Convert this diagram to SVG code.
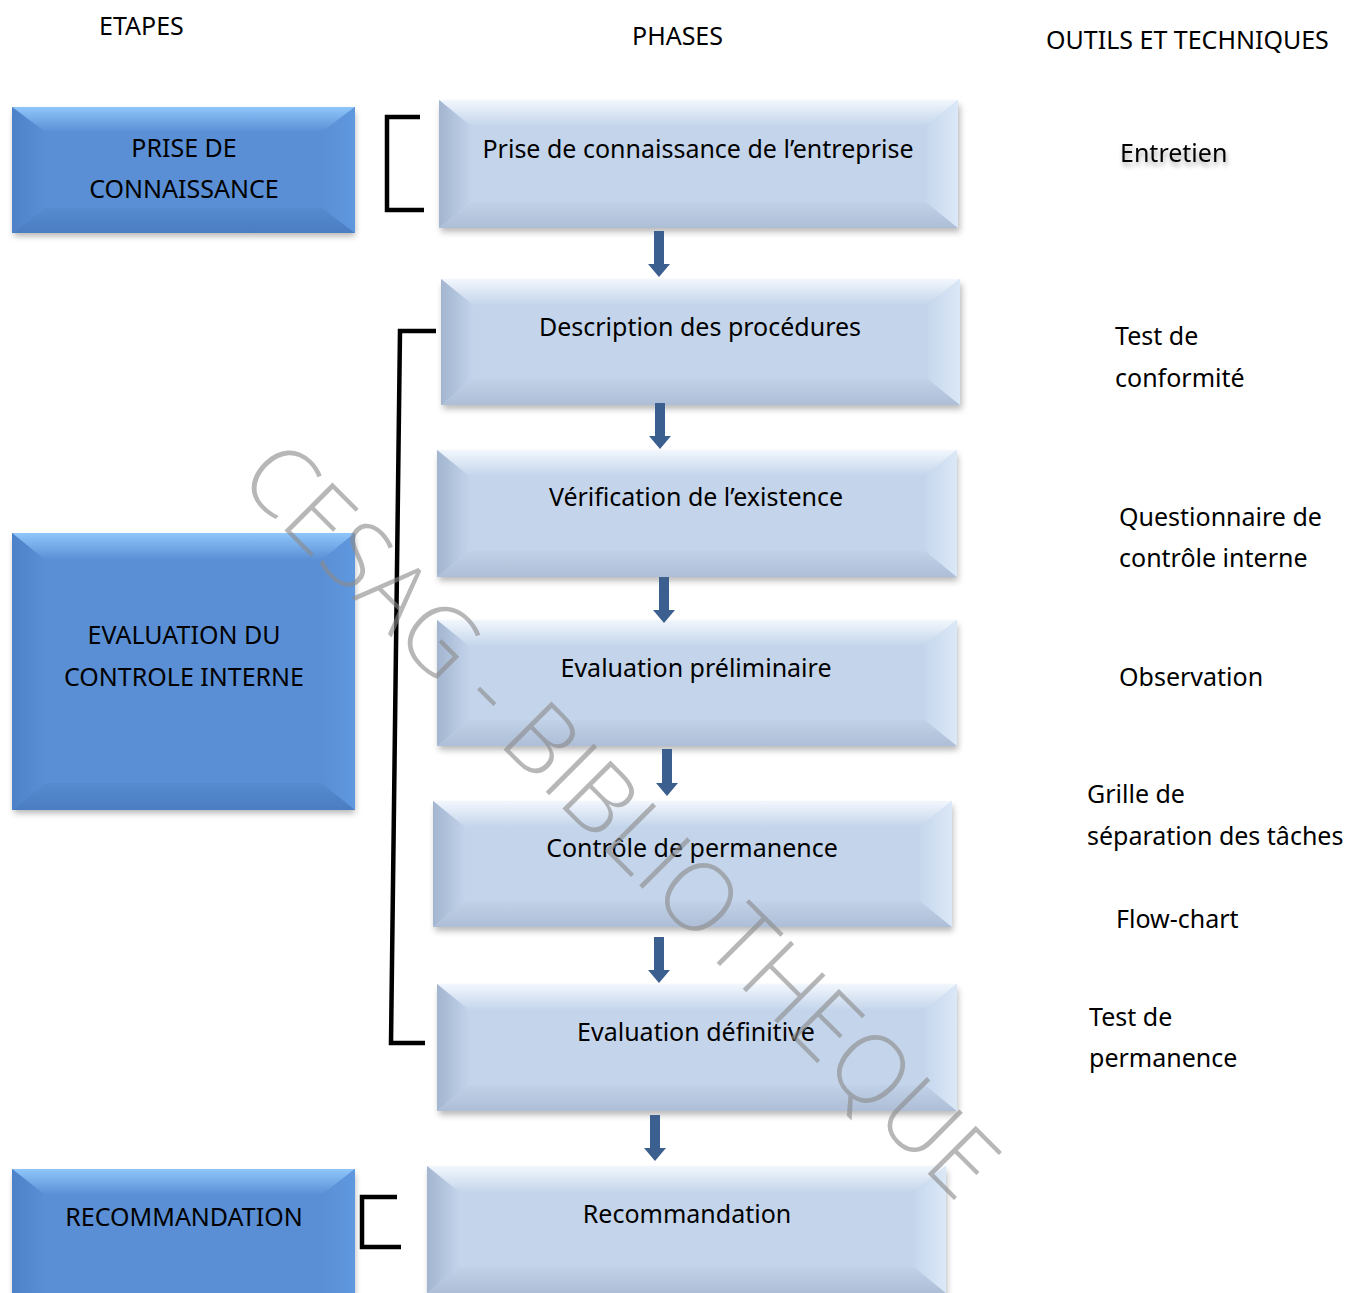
<svg xmlns="http://www.w3.org/2000/svg" width="1353" height="1293" viewBox="0 0 1353 1293">
  <defs>
    <style>
      text { font-family: "Noto Sans", "Open Sans", sans-serif; fill: #000; }
      .hdr { font-size: 25px; }
      .lbl { font-size: 25px; text-anchor: middle; }
      .tool { font-size: 25px; }
      .bracket { fill: none; stroke: #000; stroke-width: 4.5; stroke-linejoin: miter; }
      .conn { stroke: #3b5f8e; stroke-width: 10; fill: none; marker-end: url(#head); }
      .wm { font-family: "Open Sans", "Noto Sans", sans-serif; font-weight: 300; font-size: 95px; fill: #8a8a8a; fill-opacity: 0.62; text-anchor: middle; }
      .lt-face { fill: #c4d5eb; }
      .lt-top { fill: url(#ltTop); }
      .lt-bot { fill: url(#ltBot); }
      .lt-left { fill: url(#ltLeft); }
      .lt-right { fill: url(#ltRight); }
      .bl-face { fill: #5a8fd5; }
      .bl-top { fill: url(#blTop); }
      .bl-bot { fill: url(#blBot); }
      .bl-left { fill: url(#blLeft); }
      .bl-right { fill: url(#blRight); }
      .shadow { fill: #808080; filter: url(#soft); }
    </style>
    <!-- light phase boxes -->
    <linearGradient id="ltTop" x1="0" y1="0" x2="0" y2="1">
      <stop offset="0" stop-color="#f2f7fd"/>
      <stop offset="1" stop-color="#c4d5eb"/>
    </linearGradient>
    <linearGradient id="ltBot" x1="0" y1="0" x2="0" y2="1">
      <stop offset="0" stop-color="#c0d1e8"/>
      <stop offset="1" stop-color="#aebed6"/>
    </linearGradient>
    <linearGradient id="ltLeft" x1="0" y1="0" x2="1" y2="0">
      <stop offset="0" stop-color="#a3b5cf"/>
      <stop offset="1" stop-color="#c2d3ea"/>
    </linearGradient>
    <linearGradient id="ltRight" x1="0" y1="0" x2="1" y2="0">
      <stop offset="0" stop-color="#c6d7ed"/>
      <stop offset="1" stop-color="#dbe8f7"/>
    </linearGradient>
    <!-- dark step boxes -->
    <linearGradient id="blTop" x1="0" y1="0" x2="0" y2="1">
      <stop offset="0" stop-color="#8fc6fa"/>
      <stop offset="1" stop-color="#5a8fd5"/>
    </linearGradient>
    <linearGradient id="blBot" x1="0" y1="0" x2="0" y2="1">
      <stop offset="0" stop-color="#568bd0"/>
      <stop offset="1" stop-color="#4a7dc2"/>
    </linearGradient>
    <linearGradient id="blLeft" x1="0" y1="0" x2="1" y2="0">
      <stop offset="0" stop-color="#4d82c8"/>
      <stop offset="1" stop-color="#5a8fd5"/>
    </linearGradient>
    <linearGradient id="blRight" x1="0" y1="0" x2="1" y2="0">
      <stop offset="0" stop-color="#5a8fd5"/>
      <stop offset="1" stop-color="#5f98df"/>
    </linearGradient>
    <filter id="soft" x="-10%" y="-20%" width="120%" height="140%">
      <feGaussianBlur stdDeviation="3"/>
    </filter>
    <filter id="txtShadow" x="-20%" y="-50%" width="140%" height="200%">
      <feGaussianBlur in="SourceAlpha" stdDeviation="2.5"/>
      <feOffset dx="1" dy="4" result="b"/>
      <feComponentTransfer in="b" result="s"><feFuncA type="linear" slope="0.35"/></feComponentTransfer>
      <feMerge><feMergeNode in="s"/><feMergeNode in="SourceGraphic"/></feMerge>
    </filter>
    <marker id="head" markerUnits="userSpaceOnUse" viewBox="0 0 13 22" refX="1" refY="11" markerWidth="13" markerHeight="22" orient="auto">
      <polygon points="0,0 13,11 0,22" fill="#3b5f8e"/>
    </marker>
  </defs>

  <rect width="1353" height="1293" fill="#fff"/>

  <!-- column headings -->
  <g id="headings">
    <text class="hdr" x="99" y="35">ETAPES</text>
    <text class="hdr" x="632" y="45">PHASES</text>
    <text class="hdr" x="1046" y="49">OUTILS ET TECHNIQUES</text>
  </g>

  <!-- steps (left column) -->
  <g id="step-prise">
    <rect class="shadow" x="14" y="112" width="341" height="124" opacity="0.6"/>
    <rect class="bl-face" x="12" y="107" width="343" height="126"/>
    <polygon class="bl-top" points="12,107 355,107 322,132 45,132"/>
    <polygon class="bl-bot" points="12,233 355,233 322,208 45,208"/>
    <polygon class="bl-left" points="12,107 45,132 45,208 12,233"/>
    <polygon class="bl-right" points="355,107 322,132 322,208 355,233"/>
    <text class="lbl" x="184" y="157">PRISE DE</text>
    <text class="lbl" x="184" y="198">CONNAISSANCE</text>
  </g>

  <g id="step-evaluation">
    <rect class="shadow" x="14" y="538" width="341" height="275" opacity="0.6"/>
    <rect class="bl-face" x="12" y="533" width="343" height="277"/>
    <polygon class="bl-top" points="12,533 355,533 322,560 45,560"/>
    <polygon class="bl-bot" points="12,810 355,810 322,783 45,783"/>
    <polygon class="bl-left" points="12,533 45,560 45,783 12,810"/>
    <polygon class="bl-right" points="355,533 322,560 322,783 355,810"/>
    <text class="lbl" x="184" y="644">EVALUATION DU</text>
    <text class="lbl" x="184" y="686">CONTROLE INTERNE</text>
  </g>

  <g id="step-recommandation">
    <rect class="shadow" x="14" y="1174" width="341" height="130" opacity="0.6"/>
    <rect class="bl-face" x="12" y="1169" width="343" height="130"/>
    <polygon class="bl-top" points="12,1169 355,1169 322,1195 45,1195"/>
    <polygon class="bl-left" points="12,1169 45,1195 45,1299 12,1299"/>
    <polygon class="bl-right" points="355,1169 322,1195 322,1299 355,1299"/>
    <text class="lbl" x="184" y="1226">RECOMMANDATION</text>
  </g>

  <!-- phases (middle column) -->
  <g id="phase-prise">
    <rect class="shadow" x="441" y="105" width="519" height="127" opacity="0.55"/>
    <rect class="lt-face" x="439" y="100" width="519" height="128"/>
    <polygon class="lt-top" points="439,100 958,100 926,126 471,126"/>
    <polygon class="lt-bot" points="439,228 958,228 926,202 471,202"/>
    <polygon class="lt-left" points="439,100 471,126 471,202 439,228"/>
    <polygon class="lt-right" points="958,100 926,126 926,202 958,228"/>
    <text class="lbl" x="698" y="158">Prise de connaissance de l’entreprise</text>
  </g>

  <g id="phase-description">
    <rect class="shadow" x="443" y="284" width="519" height="125" opacity="0.55"/>
    <rect class="lt-face" x="441" y="279" width="519" height="126"/>
    <polygon class="lt-top" points="441,279 960,279 928,305 473,305"/>
    <polygon class="lt-bot" points="441,405 960,405 928,379 473,379"/>
    <polygon class="lt-left" points="441,279 473,305 473,379 441,405"/>
    <polygon class="lt-right" points="960,279 928,305 928,379 960,405"/>
    <text class="lbl" x="700" y="336">Description des procédures</text>
  </g>

  <g id="phase-verification">
    <rect class="shadow" x="439" y="455" width="519" height="126" opacity="0.55"/>
    <rect class="lt-face" x="437" y="450" width="520" height="127"/>
    <polygon class="lt-top" points="437,450 957,450 925,476 469,476"/>
    <polygon class="lt-bot" points="437,577 957,577 925,551 469,551"/>
    <polygon class="lt-left" points="437,450 469,476 469,551 437,577"/>
    <polygon class="lt-right" points="957,450 925,476 925,551 957,577"/>
    <text class="lbl" x="696" y="506">Vérification de l’existence</text>
  </g>

  <g id="phase-preliminaire">
    <rect class="shadow" x="439" y="625" width="519" height="125" opacity="0.55"/>
    <rect class="lt-face" x="437" y="620" width="520" height="126"/>
    <polygon class="lt-top" points="437,620 957,620 925,646 469,646"/>
    <polygon class="lt-bot" points="437,746 957,746 925,720 469,720"/>
    <polygon class="lt-left" points="437,620 469,646 469,720 437,746"/>
    <polygon class="lt-right" points="957,620 925,646 925,720 957,746"/>
    <text class="lbl" x="696" y="677">Evaluation préliminaire</text>
  </g>

  <g id="phase-permanence">
    <rect class="shadow" x="435" y="806" width="518" height="125" opacity="0.55"/>
    <rect class="lt-face" x="433" y="801" width="519" height="126"/>
    <polygon class="lt-top" points="433,801 952,801 920,827 465,827"/>
    <polygon class="lt-bot" points="433,927 952,927 920,901 465,901"/>
    <polygon class="lt-left" points="433,801 465,827 465,901 433,927"/>
    <polygon class="lt-right" points="952,801 920,827 920,901 952,927"/>
    <text class="lbl" x="692" y="857">Contrôle de permanence</text>
  </g>

  <g id="phase-definitive">
    <rect class="shadow" x="439" y="989" width="519" height="126" opacity="0.55"/>
    <rect class="lt-face" x="437" y="984" width="520" height="127"/>
    <polygon class="lt-top" points="437,984 957,984 925,1010 469,1010"/>
    <polygon class="lt-bot" points="437,1111 957,1111 925,1085 469,1085"/>
    <polygon class="lt-left" points="437,984 469,1010 469,1085 437,1111"/>
    <polygon class="lt-right" points="957,984 925,1010 925,1085 957,1111"/>
    <text class="lbl" x="696" y="1041">Evaluation définitive</text>
  </g>

  <g id="phase-recommandation">
    <rect class="shadow" x="429" y="1171" width="518" height="130" opacity="0.55"/>
    <rect class="lt-face" x="427" y="1166" width="519" height="127"/>
    <polygon class="lt-top" points="427,1166 946,1166 914,1192 459,1192"/>
    <polygon class="lt-bot" points="427,1293 946,1293 914,1267 459,1267"/>
    <polygon class="lt-left" points="427,1166 459,1192 459,1267 427,1293"/>
    <polygon class="lt-right" points="946,1166 914,1192 914,1267 946,1293"/>
    <text class="lbl" x="687" y="1223">Recommandation</text>
  </g>

  <!-- tools and techniques (right column) -->
  <g id="tools">
    <text class="tool" x="1120" y="162" filter="url(#txtShadow)">Entretien</text>
    <text class="tool" x="1115" y="345">Test de</text>
    <text class="tool" x="1115" y="387">conformité</text>
    <text class="tool" x="1119" y="526">Questionnaire de</text>
    <text class="tool" x="1119" y="567">contrôle interne</text>
    <text class="tool" x="1119" y="686">Observation</text>
    <text class="tool" x="1087" y="803">Grille de</text>
    <text class="tool" x="1087" y="845">séparation des tâches</text>
    <text class="tool" x="1116" y="928">Flow-chart</text>
    <text class="tool" x="1089" y="1026">Test de</text>
    <text class="tool" x="1089" y="1067">permanence</text>
  </g>

  <!-- connectors: brackets and flow arrows -->
  <g id="connectors">
    <polyline class="bracket" points="420,117 387,117 387,210 424,210"/>
    <polyline class="bracket" points="436,331 400,331 391,1043 425,1043"/>
    <polyline class="bracket" points="397,1197 362,1197 362,1247 401,1247"/>
    <line class="conn" x1="659" y1="231" x2="659" y2="265"/>
    <line class="conn" x1="660" y1="403" x2="660" y2="437"/>
    <line class="conn" x1="664" y1="577" x2="664" y2="611"/>
    <line class="conn" x1="667" y1="749" x2="667" y2="784"/>
    <line class="conn" x1="659" y1="937" x2="659" y2="971"/>
    <line class="conn" x1="655" y1="1115" x2="655" y2="1149"/>
  </g>

  <!-- library watermark -->
  <g id="watermark">
    <text class="wm" transform="translate(597,843) rotate(45)">CESAG - BIBLIOTHEQUE</text>
  </g>
</svg>
